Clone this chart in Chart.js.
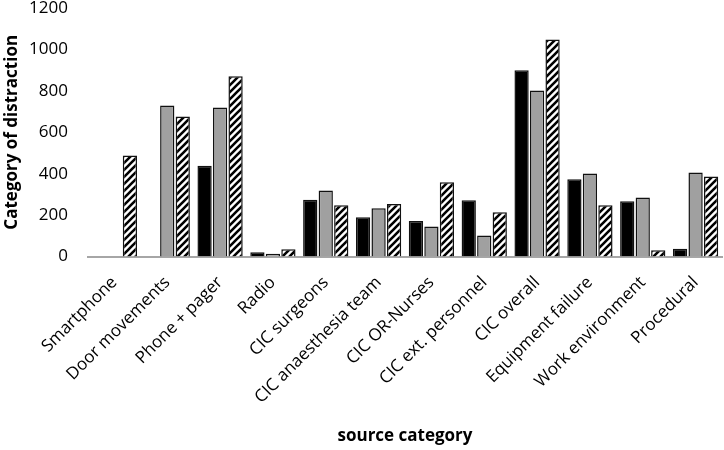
<!DOCTYPE html>
<html lang="en">
<head>
  <meta charset="UTF-8" />
  <title>Category of distraction</title>
  <style>
    body { margin: 0; padding: 0; background: #fff; }
    #wrap { width: 724px; height: 450px; }
  </style>
</head>
<body>
  <div id="wrap"><canvas id="chart"></canvas></div>

  <script src="https://cdn.jsdelivr.net/npm/chart.js"></script>
  <script>
    const categories = [
      'Smartphone', 'Door movements', 'Phone + pager', 'Radio', 'CIC surgeons',
      'CIC anaesthesia team', 'CIC OR-Nurses', 'CIC ext. personnel', 'CIC overall',
      'Equipment failure', 'Work environment', 'Procedural'
    ];
    const seriesBlack = [0, 0, 438, 21, 274, 190, 171, 272, 900, 373, 267, 37];
    const seriesGray = [0, 729, 720, 13, 319, 233, 145, 101, 802, 401, 285, 406];
    const seriesHatched = [488, 676, 871, 35, 248, 254, 359, 214, 1048, 248, 30, 387];
    const yTicks = [0, 200, 400, 600, 800, 1000, 1200];

    function makeHatch() {
      const size = 7;
      const c = document.createElement('canvas');
      c.width = size;
      c.height = size;
      const g = c.getContext('2d');
      g.fillStyle = '#fff';
      g.fillRect(0, 0, size, size);
      g.strokeStyle = '#000';
      g.lineWidth = 2.6;
      g.beginPath();
      // "/" stripes, tiled so they join up
      g.moveTo(-size / 2, size / 2); g.lineTo(size / 2, -size / 2);
      g.moveTo(0, size); g.lineTo(size, 0);
      g.moveTo(size / 2, size * 1.5); g.lineTo(size * 1.5, size / 2);
      g.stroke();
      return g.createPattern(c, 'repeat');
    }

    const font = '"Open Sans", Lato, sans-serif';
    const ctx = document.getElementById('chart').getContext('2d');

    const barStyle = {
      borderColor: '#111',
      borderWidth: 1.5,
      categoryPercentage: 0.88,
      barPercentage: 0.92,
    };

    new Chart(ctx, {
      type: 'bar',
      data: {
        labels: categories,
        datasets: [
          { label: 'black', data: seriesBlack, backgroundColor: '#000', ...barStyle },
          { label: 'gray', data: seriesGray, backgroundColor: '#a0a0a0', ...barStyle },
          { label: 'hatched', data: seriesHatched, backgroundColor: makeHatch(), ...barStyle },
        ],
      },
      options: {
        responsive: true,
        maintainAspectRatio: false,
        animation: false,
        layout: { padding: { top: 0, right: 2, left: 0, bottom: 0 } },
        plugins: {
          legend: { display: false },
          tooltip: { enabled: false },
        },
        scales: {
          x: {
            afterFit: (axis) => { axis.paddingLeft = 0; axis.paddingRight = 0; },
            grid: { display: false, drawTicks: false },
            border: { display: true, color: '#a6a6a6', width: 2 },
            ticks: {
              color: '#000',
              font: { family: font, size: 17 },
              maxRotation: 45,
              minRotation: 45,
              padding: 16,
            },
            title: {
              display: true,
              text: 'source category',
              color: '#000',
              font: { family: font, size: 17, weight: 'bold' },
              padding: { top: 2 },
            },
          },
          y: {
            min: 0,
            max: 1200,
            afterBuildTicks: (axis) => { axis.ticks = yTicks.map((v) => ({ value: v })); },
            // tick padding would otherwise push the plot down; fix the axis width too
            afterFit: (axis) => {
              axis.paddingTop = 8;
              axis.paddingBottom = 8;
              axis.width = 88;
            },
            grid: { display: false, drawTicks: false },
            border: { display: false },
            ticks: {
              color: '#000',
              font: { family: font, size: 17 },
              padding: 20,
              callback: (v) => String(v),
            },
            title: {
              display: true,
              text: 'Category of distraction',
              color: '#000',
              font: { family: font, size: 17, weight: 'bold' },
              padding: { top: 2, bottom: 2 },
            },
          },
        },
      },
    });
  </script>
</body>
</html>
